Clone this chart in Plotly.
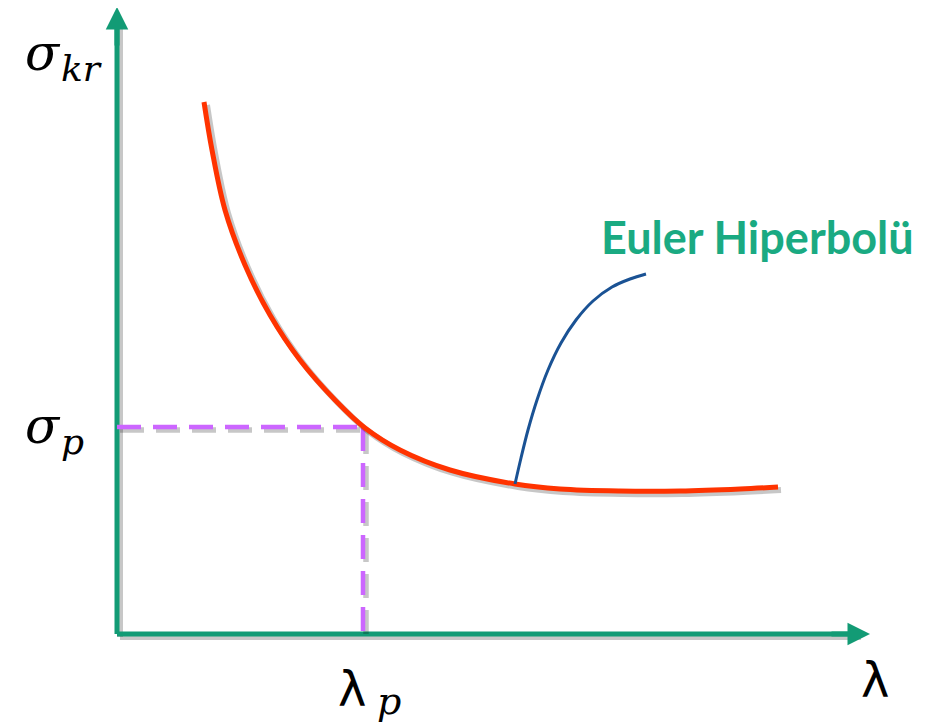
import plotly.graph_objects as go

# coordinates measured from the axis origin (lambda to the right, sigma up)
curve_lambda = [87, 95, 108, 128, 153, 183, 218, 248, 283, 333, 398, 443, 503, 563, 623, 661]
curve_sigma = [532, 484, 424, 369, 319, 274, 234, 206, 184, 164, 150, 145, 143, 143, 145, 147]

leader_lambda = [398, 404, 411, 420, 431, 444, 459, 476, 495, 513, 529]
leader_sigma = [150, 176, 204, 234, 264, 291, 314, 333, 347, 355, 360]

lambda_p = 246
sigma_p = 207
axis_x_end = 753
axis_y_end = 627

green = "#129B75"
red = "#FF3300"
purple = "#CC66FF"
blue = "#1A5294"
shadow = "rgba(0,0,0,0.22)"

fig = go.Figure()

def add_line(x, y, color, width, dash="solid", shade=True):
    if shade:
        fig.add_trace(go.Scatter(x=[v + 3 for v in x], y=[v - 3 for v in y], mode="lines",
                                 line=dict(color=shadow, width=width + 1, dash=dash, shape="spline"),
                                 hoverinfo="skip"))
    fig.add_trace(go.Scatter(x=x, y=y, mode="lines",
                             line=dict(color=color, width=width, dash=dash, shape="spline"),
                             hoverinfo="skip"))

# axes
add_line([0, 0], [0, axis_y_end - 12], green, 5)
add_line([0, axis_x_end - 12], [0, 0], green, 5)

# dashed guide lines
add_line([0, lambda_p], [sigma_p, sigma_p], purple, 4.5, dash="24px,12px")
add_line([lambda_p, lambda_p], [sigma_p, 0], purple, 4.5, dash="24px,12px")

# Euler curve
add_line(curve_lambda, curve_sigma, red, 5)
add_line(leader_lambda, leader_sigma, blue, 3, shade=False)

# arrow heads
fig.add_annotation(x=0, y=axis_y_end, ax=0, ay=axis_y_end - 40, xref="x", yref="y",
                   axref="x", ayref="y", showarrow=True, arrowhead=2, arrowsize=0.9,
                   arrowwidth=5, arrowcolor=green, text="")
fig.add_annotation(x=axis_x_end, y=0, ax=axis_x_end - 40, ay=0, xref="x", yref="y",
                   axref="x", ayref="y", showarrow=True, arrowhead=2, arrowsize=0.9,
                   arrowwidth=5, arrowcolor=green, text="")

sig = dict(family="DejaVu Serif", size=50, color="black")
sub = dict(family="DejaVu Serif", size=36, color="black")
fig.add_annotation(x=-74, y=581, text="<i>σ</i>", showarrow=False, font=sig)
fig.add_annotation(x=-36, y=566, text="<i>kr</i>", showarrow=False, font=sub)
fig.add_annotation(x=-74, y=208, text="<i>σ</i>", showarrow=False, font=sig)
fig.add_annotation(x=-45, y=193, text="<i>p</i>", showarrow=False, font=sub)
fig.add_annotation(x=235, y=-55, text="λ", showarrow=False,
                   font=dict(family="DejaVu Sans", size=48, color="black"))
fig.add_annotation(x=272, y=-67, text="<i>p</i>", showarrow=False,
                   font=dict(family="DejaVu Serif", size=38, color="black"))
fig.add_annotation(x=758, y=-46, text="λ", showarrow=False,
                   font=dict(family="DejaVu Sans", size=48, color="black"))
fig.add_annotation(x=640, y=397, text="<b>Euler Hiperbolü</b>", showarrow=False,
                   font=dict(family="Lato", size=45, color="#1AAA82"))

# body margin of the page shifts the plot by 8px, so ranges are offset to compensate
fig.update_xaxes(range=[-109, 836], visible=False)
fig.update_yaxes(range=[-100, 626], visible=False)
fig.update_layout(width=945, height=726, margin=dict(l=0, r=0, t=0, b=0),
                  showlegend=False, plot_bgcolor="white", paper_bgcolor="white")

fig.write_html("out.html")
